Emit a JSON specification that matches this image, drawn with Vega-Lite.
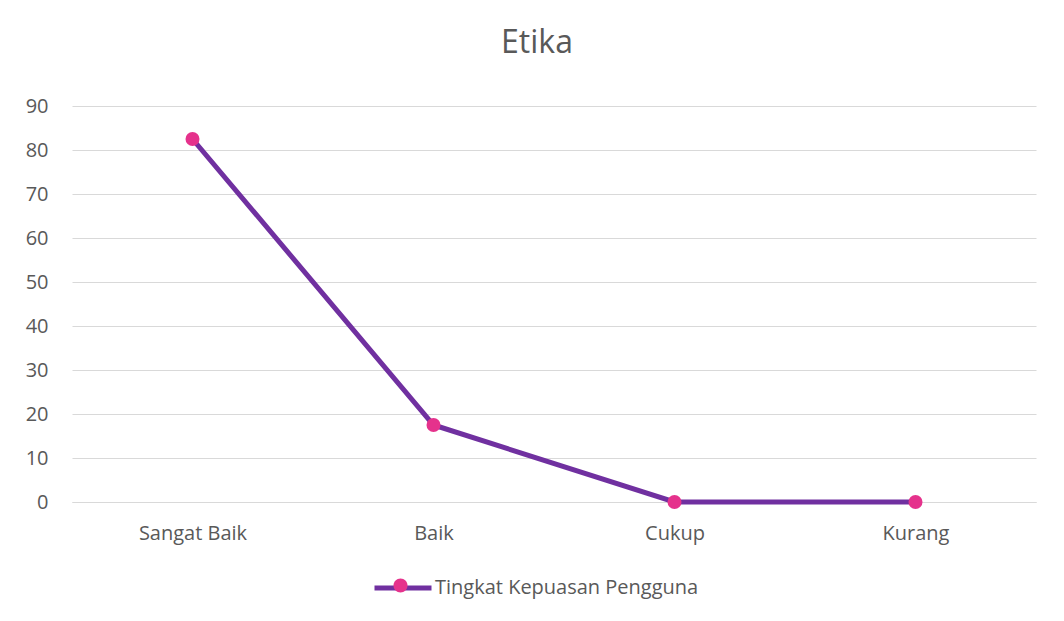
{
  "$schema": "https://vega.github.io/schema/vega-lite/v6.json",
  "width": 964,
  "height": 396,
  "autosize": {"type": "none"},
  "padding": {"left": 72, "top": 106, "right": 28, "bottom": 119},
  "background": "white",
  "config": {
    "view": {"stroke": null},
    "font": "Open Sans",
    "axis": {"labelFont": "Open Sans", "labelColor": "#595959", "labelFontSize": 20, "gridColor": "#D9D9D9", "gridWidth": 1, "ticks": false, "title": null}
  },
  "title": {"text": "Etika", "fontSize": 32, "font": "Open Sans", "fontWeight": "normal", "color": "#595959", "anchor": "middle", "dx": -17, "offset": 36},
  "data": {"values": [
    {"kategori": "Sangat Baik", "nilai": 82.5, "seri": "Tingkat Kepuasan Pengguna"},
    {"kategori": "Baik", "nilai": 17.5, "seri": "Tingkat Kepuasan Pengguna"},
    {"kategori": "Cukup", "nilai": 0, "seri": "Tingkat Kepuasan Pengguna"},
    {"kategori": "Kurang", "nilai": 0, "seri": "Tingkat Kepuasan Pengguna"}
  ]},
  "encoding": {
    "x": {"field": "kategori", "type": "nominal", "sort": null, "scale": {"type": "point", "padding": 0.5},
      "axis": {"labelAngle": 0, "labelPadding": 21, "domainColor": "#D9D9D9", "domainWidth": 1, "grid": false}},
    "y": {"field": "nilai", "type": "quantitative", "scale": {"domain": [0, 90], "nice": false},
      "axis": {"values": [0,10,20,30,40,50,60,70,80,90], "domain": false, "grid": true, "labelPadding": 24}}
  },
  "layer": [
    {
      "mark": {"type": "line", "strokeWidth": 5, "strokeCap": "round"},
      "encoding": {
        "color": {"field": "seri", "type": "nominal", "scale": {"range": ["#7030A0"]},
          "legend": {"title": null, "orient": "none", "legendX": 300, "legendY": 451, "symbolType": "stroke", "symbolSize": 3249, "symbolStrokeWidth": 5, "labelFontSize": 20, "labelColor": "#595959", "labelFont": "Open Sans", "labelOffset": 1, "labelLimit": 500}}
      }
    },
    {
      "mark": {"type": "point", "filled": true, "opacity": 1, "size": 196},
      "encoding": {
        "fill": {"field": "seri", "type": "nominal", "scale": {"range": ["#E5328C"]},
          "legend": {"title": null, "orient": "none", "legendX": 300, "legendY": 451, "symbolType": "M-0.2456,0A0.2456,0.2456 0 1 1 0.2456,0A0.2456,0.2456 0 1 1 -0.2456,0Z", "symbolSize": 3249, "symbolOpacity": 1, "symbolStrokeWidth": 0, "labelFontSize": 20, "labelExpr": "''", "labelFont": "Open Sans", "labelOffset": 1, "labelLimit": 500}}
      }
    }
  ]
}
